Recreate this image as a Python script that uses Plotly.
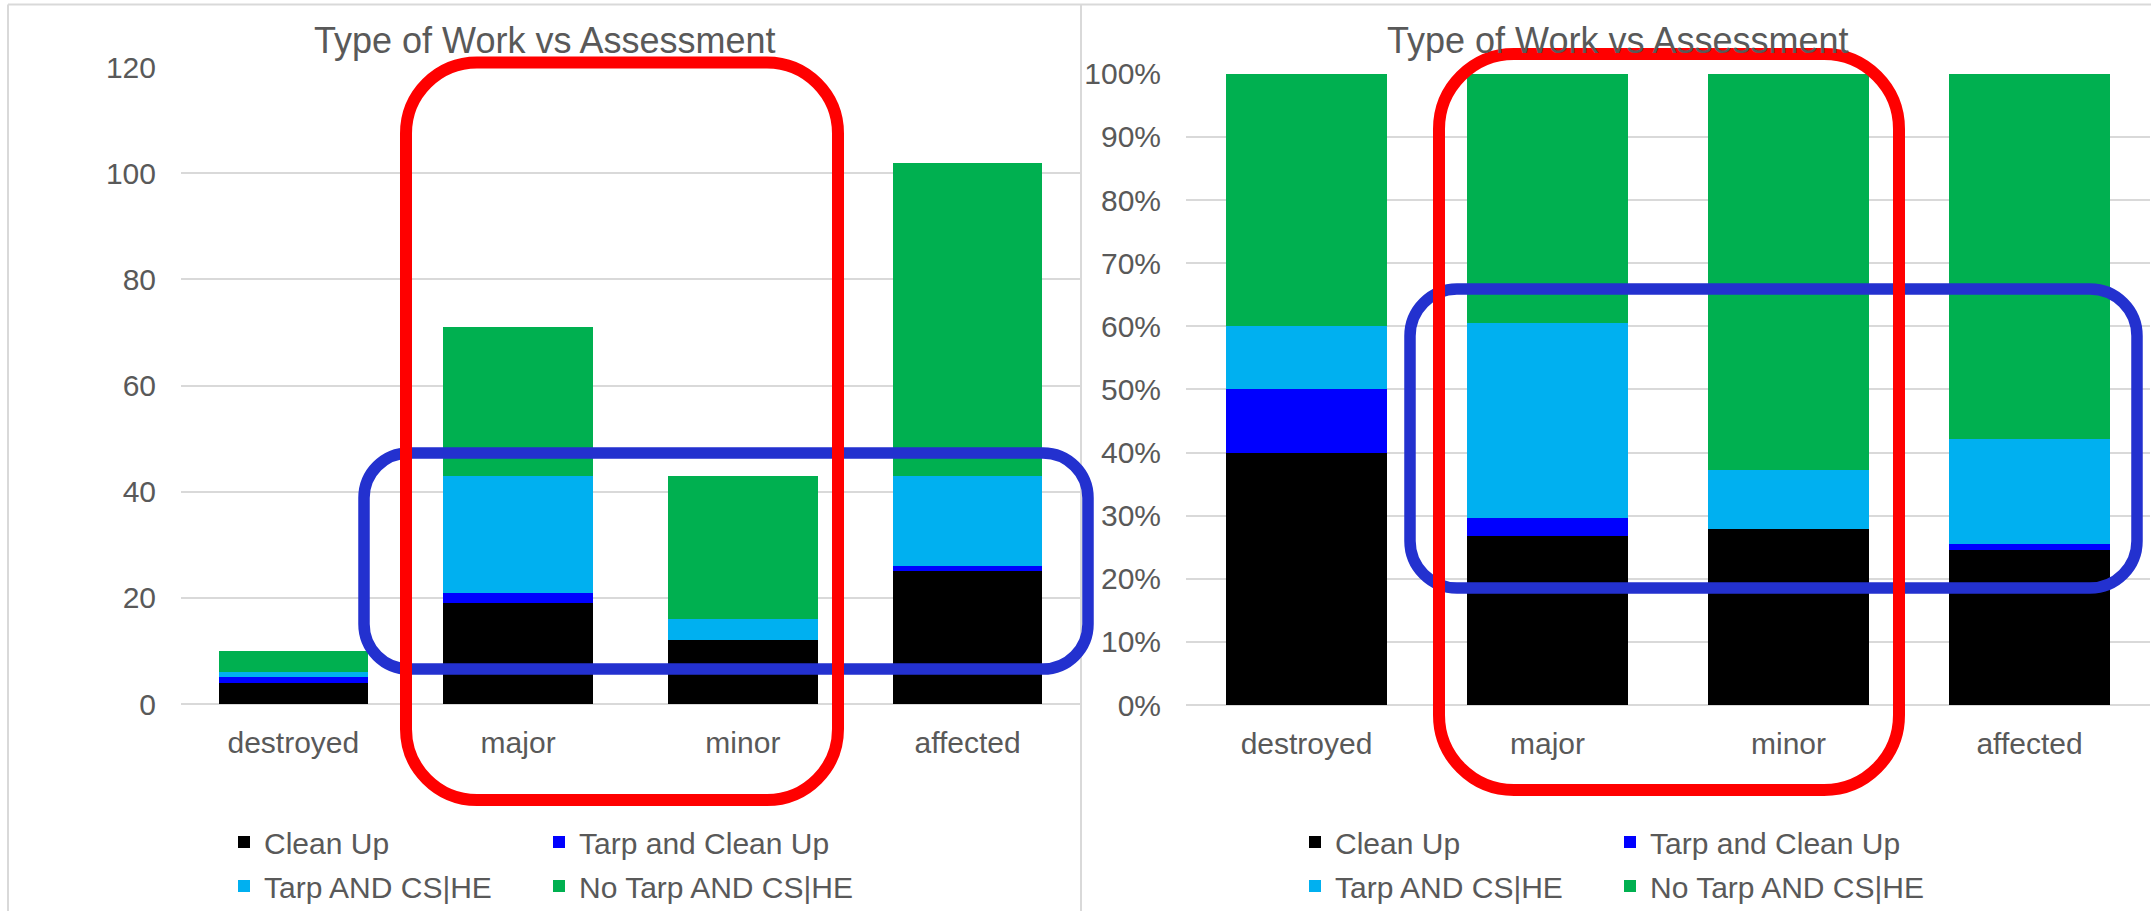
import plotly.graph_objects as go

# ---------------- data ----------------
categories = ["destroyed", "major", "minor", "affected"]
series_names = ["Clean Up", "Tarp and Clean Up", "Tarp AND CS|HE", "No Tarp AND CS|HE"]
clean_up = [4, 19, 12, 25]
tarp_and_clean_up = [1, 2, 0, 1]
tarp_and_cshe = [1, 22, 4, 17]
no_tarp_and_cshe = [4, 28, 27, 59]
count_ticks = [0, 20, 40, 60, 80, 100, 120]
pct_ticks = [0, 10, 20, 30, 40, 50, 60, 70, 80, 90, 100]
pct_tick_labels = ["0%", "10%", "20%", "30%", "40%", "50%", "60%", "70%", "80%", "90%", "100%"]
chart_title = "Type of Work vs Assessment"

series_values = [clean_up, tarp_and_clean_up, tarp_and_cshe, no_tarp_and_cshe]
series_colors = ["#000000", "#0000FF", "#00B0F0", "#00B050"]

# ---------------- geometry helpers ----------------
W, H = 2151, 911


def px(x):
    return x / W


def py(y):
    return 1 - y / H


def rrect(x0, y0, x1, y1, r):
    k = 0.5523 * r

    def p(x, y):
        return f"{px(x):.6f},{py(y):.6f}"

    return (
        f"M{p(x0 + r, y0)} L{p(x1 - r, y0)} "
        f"C{p(x1 - r + k, y0)} {p(x1, y0 + r - k)} {p(x1, y0 + r)} "
        f"L{p(x1, y1 - r)} "
        f"C{p(x1, y1 - r + k)} {p(x1 - r + k, y1)} {p(x1 - r, y1)} "
        f"L{p(x0 + r, y1)} "
        f"C{p(x0 + r - k, y1)} {p(x0, y1 - r + k)} {p(x0, y1 - r)} "
        f"L{p(x0, y0 + r)} "
        f"C{p(x0, y0 + r - k)} {p(x0 + r - k, y0)} {p(x0 + r, y0)} Z"
    )


FONT = "Liberation Sans, Arial, sans-serif"
TXT = "#595959"
GRID = "#D9D9D9"

totals = [sum(v[i] for v in series_values) for i in range(len(categories))]

# legend rows: first two series on row 1, last two on row 2
left_legends = ["legend", "legend", "legend2", "legend2"]
right_legends = ["legend3", "legend3", "legend4", "legend4"]

fig = go.Figure()
for name, vals, col, lg in zip(series_names, series_values, series_colors, left_legends):
    fig.add_trace(go.Bar(
        x=categories, y=vals, name=name, marker=dict(color=col, line=dict(width=0)),
        xaxis="x", yaxis="y", legend=lg,
    ))
for name, vals, col, lg in zip(series_names, series_values, series_colors, right_legends):
    pct = [100.0 * v / t for v, t in zip(vals, totals)]
    fig.add_trace(go.Bar(
        x=categories, y=pct, name=name, marker=dict(color=col, line=dict(width=0)),
        xaxis="x2", yaxis="y2", legend=lg,
    ))

tickfont = dict(family=FONT, size=30, color=TXT)
legend_common = dict(
    orientation="h", xanchor="left", yanchor="middle", traceorder="normal",
    font=dict(family=FONT, size=30, color=TXT), bgcolor="rgba(0,0,0,0)",
    entrywidth=270, entrywidthmode="pixels", itemclick=False, itemdoubleclick=False,
)

shapes = [
    # panel borders
    dict(type="line", xref="paper", yref="paper", x0=px(8), x1=px(8), y0=py(4.5), y1=0,
         line=dict(color=GRID, width=2), layer="below"),
    dict(type="line", xref="paper", yref="paper", x0=px(8), x1=1, y0=py(4.5), y1=py(4.5),
         line=dict(color=GRID, width=2), layer="below"),
    dict(type="line", xref="paper", yref="paper", x0=px(1081), x1=px(1081), y0=py(4.5), y1=0,
         line=dict(color=GRID, width=2), layer="below"),
    # highlight boxes (blue first, red over it)
    dict(type="path", xref="paper", yref="paper", path=rrect(364, 453, 1088, 669, 45),
         line=dict(color="#2331CF", width=11.5), layer="above"),
    dict(type="path", xref="paper", yref="paper", path=rrect(1410, 289, 2137, 588, 47),
         line=dict(color="#2331CF", width=11.5), layer="above"),
    dict(type="path", xref="paper", yref="paper", path=rrect(406, 62.5, 838, 800, 71),
         line=dict(color="#FF0000", width=12), layer="above"),
    dict(type="path", xref="paper", yref="paper", path=rrect(1439, 54, 1899, 790, 75),
         line=dict(color="#FF0000", width=12), layer="above"),
]

annotations = [
    dict(text=chart_title, xref="paper", yref="paper", x=px(545), y=py(40),
         xanchor="center", yanchor="middle", showarrow=False,
         font=dict(family=FONT, size=36, color=TXT)),
    dict(text=chart_title, xref="paper", yref="paper", x=px(1618), y=py(40),
         xanchor="center", yanchor="middle", showarrow=False,
         font=dict(family=FONT, size=36, color=TXT)),
]

fig.update_layout(
    width=W, height=H, margin=dict(l=0, r=0, t=0, b=0, autoexpand=False),
    paper_bgcolor="white", plot_bgcolor="white",
    barmode="stack", bargap=0.335,
    showlegend=True,
    xaxis=dict(domain=[px(181), px(1080)], anchor="y", showgrid=False, showline=False,
               ticks="", tickfont=tickfont, ticklabelstandoff=18, fixedrange=True),
    yaxis=dict(domain=[py(704), py(67)], anchor="x", range=[0, 120], tickvals=count_ticks,
               showgrid=True, gridcolor=GRID, gridwidth=2, zeroline=True, zerolinecolor=GRID,
               zerolinewidth=2, showline=False, ticks="", tickfont=tickfont,
               ticklabelstandoff=24, fixedrange=True),
    xaxis2=dict(domain=[px(1186), px(2150)], anchor="y2", showgrid=False, showline=False,
                ticks="", tickfont=tickfont, ticklabelstandoff=18, fixedrange=True),
    yaxis2=dict(domain=[py(705), py(73.8)], anchor="x2", range=[0, 100], tickvals=pct_ticks,
                ticktext=pct_tick_labels, showgrid=True, gridcolor=GRID, gridwidth=2,
                zeroline=True, zerolinecolor=GRID, zerolinewidth=2, showline=False, ticks="",
                tickfont=tickfont, ticklabelstandoff=24, fixedrange=True),
    legend=dict(x=px(224), y=py(842), **legend_common),
    legend2=dict(x=px(224), y=py(886), **legend_common),
    legend3=dict(x=px(1295), y=py(842), **legend_common),
    legend4=dict(x=px(1295), y=py(886), **legend_common),
    shapes=shapes,
    annotations=annotations,
)

fig.write_html("out.html", config={"displayModeBar": False},
               post_script="document.body.style.margin='0';")
